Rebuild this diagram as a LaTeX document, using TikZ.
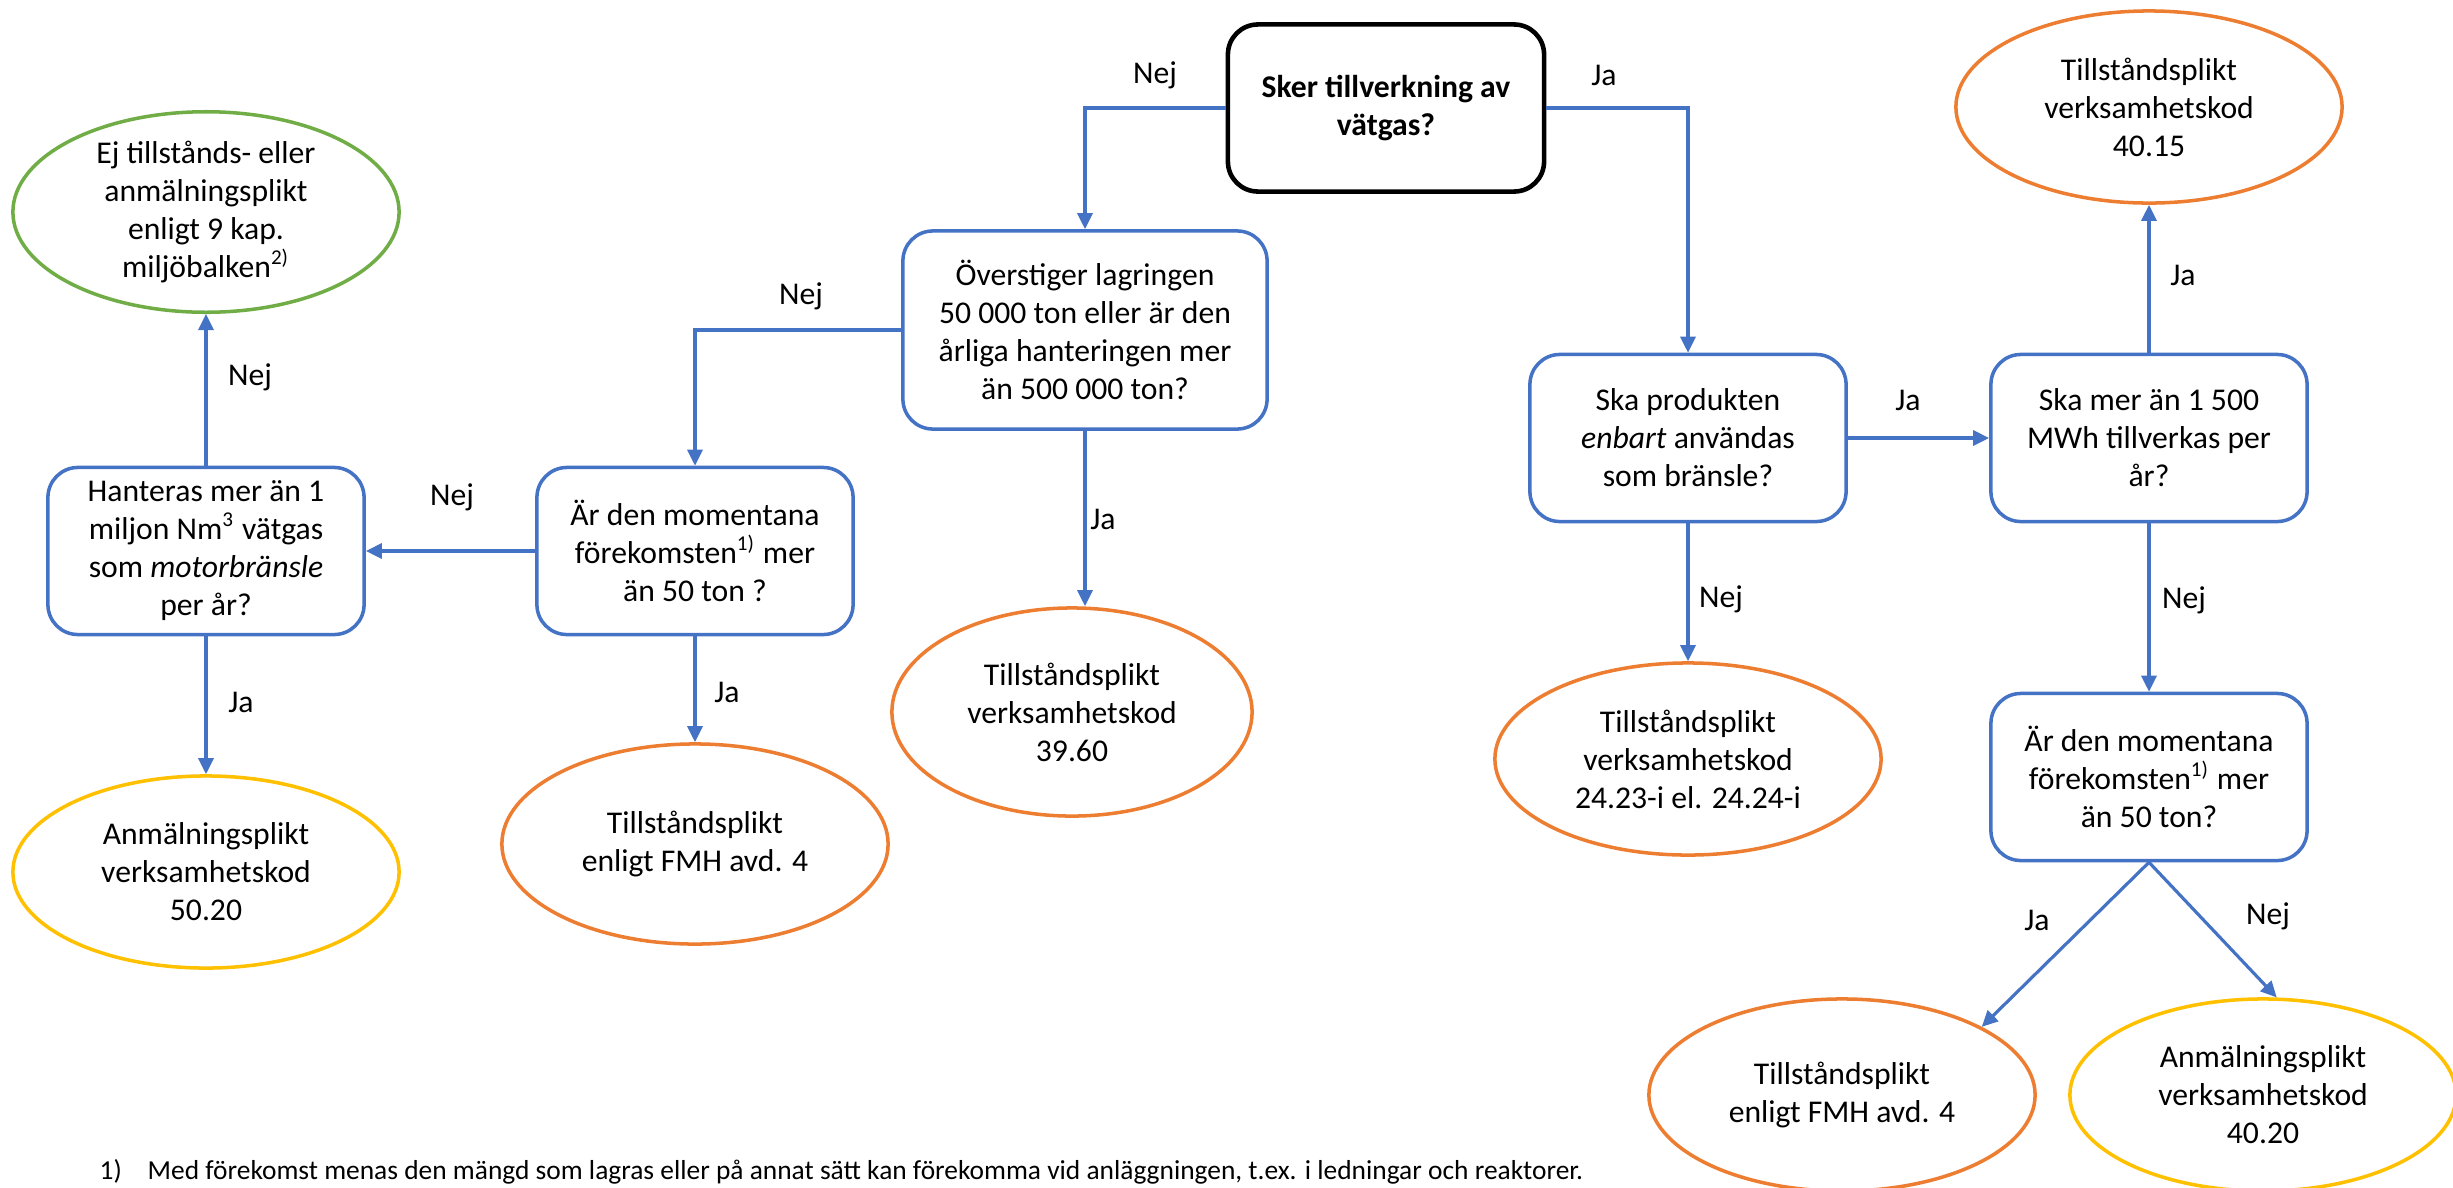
\documentclass[tikz,border=0pt]{standalone}
\usepackage{fontspec}
\setmainfont{Carlito}
\usetikzlibrary{shapes.geometric,arrows.meta}
\definecolor{lineblue}{HTML}{4472C4}
\definecolor{kodorange}{HTML}{ED7D31}
\definecolor{kodgreen}{HTML}{70AD47}
\definecolor{kodyellow}{HTML}{FFC000}

\begin{document}
\begin{tikzpicture}[x=0.01cm,y=-0.01cm,
  every node/.style={font=\fontsize{9pt}{10.8pt}\selectfont},
  fraga/.style={draw=lineblue,line width=1pt,rounded corners=0.3cm,
    minimum width=3.16cm,minimum height=1.67cm,align=center,inner sep=0pt},
  utfall/.style={ellipse,line width=1pt,minimum width=3.86cm,
    minimum height=1.92cm,align=center,inner sep=0pt},
  pil/.style={draw=lineblue,line width=0.9pt,-{Triangle[length=0.16cm,width=0.15cm]}},
  fotnot/.style={anchor=base west,inner sep=0pt,font=\fontsize{7.8pt}{9pt}\selectfont}]
  \useasboundingbox (0,0) rectangle (2453,1187);

  % fragor
  \node[fraga,draw=black,line width=1.3pt,font=\fontsize{9pt}{10.8pt}\selectfont\bfseries]
    (start) at (1386,108) {Sker tillverkning av\\vätgas?};
  \node[fraga,minimum width=3.64cm,minimum height=1.98cm] (lagring) at (1085,330)
    {Överstiger lagringen\\50 000 ton eller är den\\årliga hanteringen mer\\än 500 000 ton?};
  \node[fraga] (momL) at (695,551) {Är den momentana\\förekomsten\textsuperscript{1)} mer\\än 50 ton ?};
  \node[fraga] (motor) at (206,551) {Hanteras mer än 1\\miljon Nm\textsuperscript{3} vätgas\\som \textit{motorbränsle}\\per år?};
  \node[fraga] (produkt) at (1688,438) {Ska produkten\\\textit{enbart} användas\\som bränsle?};
  \node[fraga] (mwh) at (2149,438) {Ska mer än 1 500\\MWh tillverkas per\\år?};
  \node[fraga] (momR) at (2149,777) {Är den momentana\\förekomsten\textsuperscript{1)} mer\\än 50 ton?};

  % utfall
  \node[utfall,draw=kodgreen] (ejplikt) at (206,212) {Ej tillstånds- eller\\anmälningsplikt\\enligt 9 kap.\\miljöbalken\textsuperscript{2)}};
  \node[utfall,draw=kodyellow] (kod5020) at (206,872) {Anmälningsplikt\\verksamhetskod\\50.20};
  \node[utfall,draw=kodorange,minimum height=2cm] (fmhL) at (695,844) {Tillståndsplikt\\enligt FMH avd. 4};
  \node[utfall,draw=kodorange,minimum width=3.6cm,minimum height=2.08cm] (kod3960) at (1072,712) {Tillståndsplikt\\verksamhetskod\\39.60};
  \node[utfall,draw=kodorange] (kod2423) at (1688,759) {Tillståndsplikt\\verksamhetskod\\24.23-i el. 24.24-i};
  \node[utfall,draw=kodorange] (kod4015) at (2149,107) {Tillståndsplikt\\verksamhetskod\\40.15};
  \node[utfall,draw=kodorange] (fmhR) at (1842,1095) {Tillståndsplikt\\enligt FMH avd. 4};
  \node[utfall,draw=kodyellow] (kod4020) at (2263,1095) {Anmälningsplikt\\verksamhetskod\\40.20};

  % pilar
  \draw[pil] (start.west) -| (lagring.north);
  \draw[pil] (start.east) -| (produkt.north);
  \draw[pil] (lagring.west) -| (momL.north);
  \draw[pil] (lagring.south) -- (lagring.south |- kod3960.north);
  \draw[pil] (momL.west) -- (motor.east);
  \draw[pil] (momL.south) -- (fmhL.north);
  \draw[pil] (motor.north) -- (ejplikt.south);
  \draw[pil] (motor.south) -- (kod5020.north);
  \draw[pil] (produkt.east) -- (mwh.west);
  \draw[pil] (produkt.south) -- (kod2423.north);
  \draw[pil] (mwh.north) -- (kod4015.south);
  \draw[pil] (mwh.south) -- (momR.north);
  \draw[pil] (momR.south) -- (fmhR.26);
  \draw[pil] (momR.south) -- (kod4020.82);

  % ja/nej
  \node (nej1) at (1155,75) {Nej};
  \node (ja1) at (1604,75) {Ja};
  \node (nej2) at (801,296) {Nej};
  \node (ja2) at (1103,519) {Ja};
  \node (nej3) at (452,497) {Nej};
  \node (nej4) at (250,377) {Nej};
  \node (ja3) at (241,702) {Ja};
  \node (ja4) at (727,692) {Ja};
  \node (ja5) at (1908,400) {Ja};
  \node (nej5) at (1721,599) {Nej};
  \node (ja6) at (2183,275) {Ja};
  \node (nej6) at (2184,600) {Nej};
  \node (ja7) at (2037,920) {Ja};
  \node (nej7) at (2268,916) {Nej};

  % fotnot
  \node[fotnot] (fnnr) at (99,1179) {1)};
  \node[fotnot] (fntext) at (147,1179)
    {Med förekomst menas den mängd som lagras eller på annat sätt kan förekomma vid anläggningen, t.ex. i ledningar och reaktorer.};
\end{tikzpicture}
\end{document}
